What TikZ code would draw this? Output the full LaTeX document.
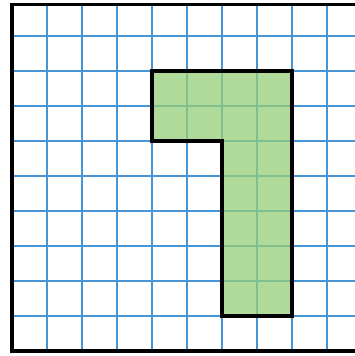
\documentclass[tikz,border=0pt]{standalone}
\definecolor{gridblue}{RGB}{70,150,215}
\definecolor{leafgreen}{RGB}{150,205,120}
\begin{document}
\begin{tikzpicture}[x=1cm, y=1cm,
	gridline/.style={draw=gridblue, line width=1.1pt},
	frameline/.style={draw=black, line width=2.8pt},
	figure/.style={fill=leafgreen, fill opacity=0.75, draw=black, line width=3pt, line join=miter}]

	\useasboundingbox (-0.34,-0.14) rectangle (9.8,10.03);

	% paper grid
	\foreach \i in {1,...,9}
		\draw[gridline] (\i,0) -- (\i,9.9);
	\foreach \j in {1,...,9}
		\draw[gridline] (0,\j) -- (9.8,\j);

	% the shape
	\draw[figure] (4,8) -- (8,8) -- (8,1) -- (6,1) -- (6,6) -- (4,6) -- cycle;

	% frame
	\draw[frameline] (9.8,9.9) -- (0,9.9) -- (0,0) -- (9.8,0);

\end{tikzpicture}
\end{document}
